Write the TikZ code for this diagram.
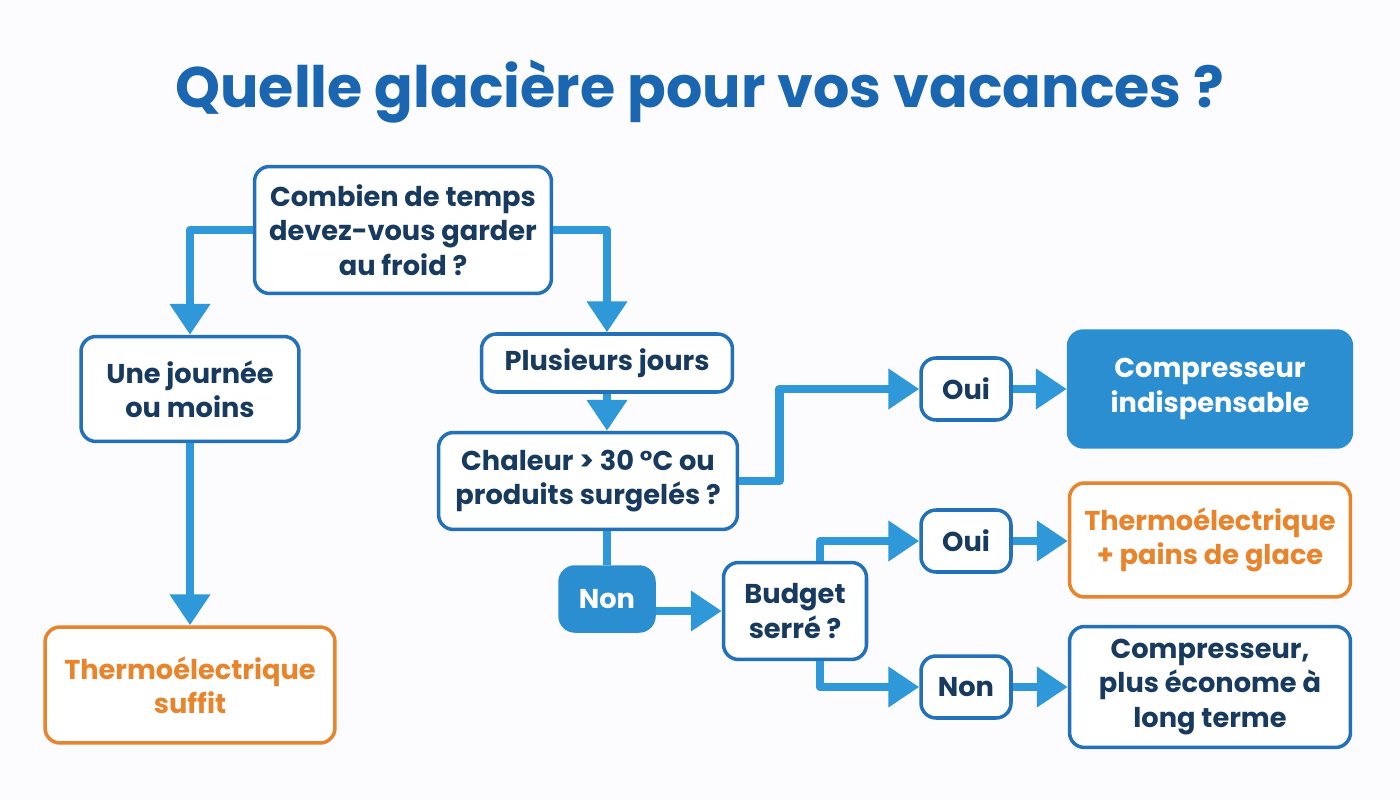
\documentclass[tikz,border=0pt]{standalone}
\usepackage{fontspec}
\setmainfont{Poppins}
\usepackage{tikz}
\usetikzlibrary{arrows.meta, calc}
\usepackage{xcolor}

\definecolor{titleblue}{HTML}{1A66B0}
\definecolor{navy}{HTML}{173A5E}
\definecolor{edgeblue}{HTML}{2271B9}
\definecolor{flowblue}{HTML}{2E98D8}
\definecolor{fillblue}{HTML}{2B8ED0}
\definecolor{warm}{HTML}{E8842C}

\begin{document}
\begin{tikzpicture}[x=0.02cm, y=-0.02cm, line join=round,
    box/.style={draw=edgeblue, line width=2pt, rounded corners=0.3cm, fill=white,
        text=navy, font=\bfseries\fontsize{15.5}{19.5}\selectfont, align=center, inner sep=0pt},
    hotbox/.style={box, draw=warm, text=warm},
    solid box/.style={box, draw=fillblue, fill=fillblue, text=white},
    flow/.style={draw=flowblue, line width=5pt, -{Triangle[length=0.62cm, width=0.78cm]}},
    plain flow/.style={draw=flowblue, line width=5pt}]

    % page and margins
    \fill[white!99!blue] (0,0) rectangle (1400,800);

    % ==========================================
    % TITLE
    % ==========================================
    \node[text=titleblue, font=\bfseries\fontsize{32.5}{38}\selectfont] (title) at (700,92) {Quelle glacière pour vos vacances ?};

    % ==========================================
    % BOXES
    % ==========================================
    \node[box, minimum width=5.94cm, minimum height=2.54cm] (duree) at (403,230) {Combien de temps\\devez-vous garder\\au froid ?};

    % left branch
    \node[box, minimum width=4.36cm, minimum height=2.1cm] (journee) at (190,389) {Une journée\\ou moins};
    \node[hotbox, minimum width=5.8cm, minimum height=2.32cm] (suffit) at (190,685) {Thermoélectrique\\suffit};

    % right branch
    \node[box, minimum width=5.02cm, minimum height=1.16cm] (jours) at (607,363) {Plusieurs jours};
    \node[box, minimum width=5.98cm, minimum height=1.94cm] (chaleur) at (588,481) {Chaleur > 30 °C ou\\produits surgelés ?};
    \node[solid box, minimum width=1.88cm, minimum height=1.28cm] (nonA) at (607,599) {Non};
    \node[box, minimum width=2.86cm, minimum height=1.94cm] (budget) at (795,611) {Budget\\serré ?};

    % answers
    \node[box, minimum width=1.8cm, minimum height=1.24cm] (ouiA) at (966,389) {Oui};
    \node[box, minimum width=1.8cm, minimum height=1.24cm] (ouiB) at (966,541) {Oui};
    \node[box, minimum width=1.8cm, minimum height=1.24cm] (nonB) at (966,687) {Non};

    % outcomes
    \node[solid box, minimum width=5.66cm, minimum height=2.32cm] (indisp) at (1210,389) {Compresseur\\indispensable};
    \node[hotbox, minimum width=5.62cm, minimum height=2.28cm] (pains) at (1210,540) {Thermoélectrique\\+ pains de glace};
    \node[box, minimum width=5.62cm, minimum height=2.42cm] (econome) at (1210,687) {Compresseur,\\plus économe à\\long terme};

    % ==========================================
    % CONNECTORS
    % ==========================================
    \draw[flow] (duree.west) -| (journee.north);
    \draw[flow] (duree.east) -| (jours.north);
    \draw[flow] (journee.south) -- (suffit.north);
    \draw[flow] (jours.south) -- (chaleur.north -| jours.south);

    \draw[flow] (chaleur.east) -- ++(40,0) |- (ouiA.west);
    \draw[plain flow] (nonA.north |- chaleur.south) -- (nonA.north);
    \draw[flow] (nonA.east |- budget.west) -- (budget.west);

    \draw[flow] ([xshift=0.5cm]budget.north) |- (ouiB.west);
    \draw[flow] ([xshift=0.5cm]budget.south) |- (nonB.west);

    \draw[flow] (ouiA.east) -- (indisp.west);
    \draw[flow] (ouiB.east) -- (pains.west |- ouiB.east);
    \draw[flow] (nonB.east) -- (econome.west);

\end{tikzpicture}
\end{document}
